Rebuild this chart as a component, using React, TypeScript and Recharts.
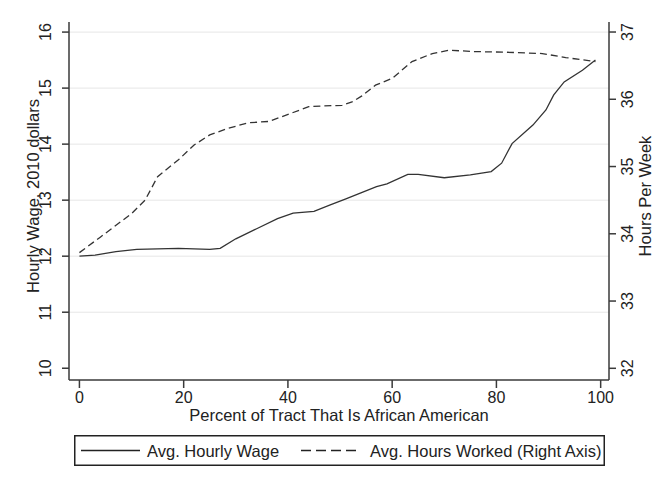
import React from "react";
import { LineChart, Line, XAxis, YAxis, CartesianGrid, Legend } from "recharts";

// ---- data ----
const wagePct = [0, 3, 7, 11, 15, 19, 22, 25, 27, 30, 34, 38, 41, 45, 48, 51, 54, 57, 59, 63, 65, 70, 75, 79, 81, 83, 87, 89.5, 91, 93, 96.5, 99];
const wageValues = [12.0, 12.02, 12.08, 12.12, 12.13, 12.14, 12.13, 12.12, 12.14, 12.31, 12.49, 12.67, 12.77, 12.8, 12.91, 13.02, 13.13, 13.24, 13.29, 13.46, 13.46, 13.4, 13.45, 13.51, 13.66, 14.01, 14.34, 14.61, 14.88, 15.11, 15.32, 15.5];
const hoursPct = [0, 4, 10, 12.6, 15, 19, 22, 25, 28.6, 32.4, 36.3, 38.8, 44, 46.5, 50.4, 52.3, 54.2, 56.8, 60, 63.8, 67.7, 71, 75.4, 81.8, 88.8, 93.3, 99];
const hoursValues = [33.72, 33.95, 34.3, 34.5, 34.85, 35.1, 35.32, 35.47, 35.57, 35.65, 35.67, 35.74, 35.89, 35.9, 35.91, 35.96, 36.05, 36.21, 36.31, 36.56, 36.68, 36.73, 36.71, 36.7, 36.68, 36.62, 36.56];
const xTicks = [0, 20, 40, 60, 80, 100];
const wageTicks = [10, 11, 12, 13, 14, 15, 16];
const hoursTicks = [32, 33, 34, 35, 36, 37];
const gridValues = [11, 12, 13, 14, 15, 16];

const xTitle = "Percent of Tract That Is African American";
const leftTitle = "Hourly Wage, 2010 dollars";
const rightTitle = "Hours Per Week";
const wageName = "Avg. Hourly Wage";
const hoursName = "Avg. Hours Worked (Right Axis)";

const wageData = wagePct.map((p, i) => ({ pct: p, wage: wageValues[i] }));
const hoursData = hoursPct.map((p, i) => ({ pct: p, hours: hoursValues[i] }));

// ---- layout ----
const W = 650;
const H = 471;
const PLOT_TOP = 14;
const PLOT_LEFT = 61;
const PLOT_RIGHT = 601;
const PLOT_BOTTOM = 372;
const FONT = "'Liberation Sans', Arial, Helvetica, sans-serif";
const TXT = "#222";
const AX = "#3a3a3a";

const XTick = (props: any) => {
  const { x, payload } = props;
  return (
    <text x={x} y={PLOT_BOTTOM + 17} textAnchor="middle" dominantBaseline="central" fontSize={16} fill={TXT} fontFamily={FONT}>
      {payload.value}
    </text>
  );
};

const makeYTick = (cx: number) => (props: any) => {
  const { y, payload } = props;
  return (
    <text x={cx} y={y} transform={`rotate(-90 ${cx} ${y})`} textAnchor="middle" dominantBaseline="central" fontSize={16} fill={TXT} fontFamily={FONT}>
      {payload.value}
    </text>
  );
};

const LeftTick = makeYTick(38);
const RightTick = makeYTick(620);

const LegendBox = () => (
  <svg width={531} height={31} style={{ display: "block" }}>
    <rect x={0.75} y={0.75} width={529.5} height={29.5} fill="#fff" stroke="#222" strokeWidth={1.5} />
    <line x1={7} y1={15.5} x2={66} y2={15.5} stroke="#222" strokeWidth={1.3} />
    <text x={73} y={15.5} dominantBaseline="central" fontSize={16.5} fill={TXT} fontFamily={FONT}>{wageName}</text>
    <line x1={227} y1={15.5} x2={282} y2={15.5} stroke="#222" strokeWidth={1.3} strokeDasharray="10 5" />
    <text x={296} y={15.5} dominantBaseline="central" fontSize={16.5} fill={TXT} fontFamily={FONT}>{hoursName}</text>
  </svg>
);

export default function App() {
  return (
    <div style={{ position: "relative", width: W, height: H, background: "#fff" }}>
      <div
        style={{
          position: "absolute",
          left: -1,
          top: -4,
          width: 658,
          height: 478,
          borderLeft: "1px solid #e2e2e2",
          borderTop: "1px solid #e2e2e2",
          boxSizing: "border-box",
          pointerEvents: "none",
        }}
      />
      <LineChart width={W} height={H} margin={{ top: PLOT_TOP, right: 0, bottom: 0, left: 0 }} style={{ position: "absolute", left: 0, top: 0 }}>
        <CartesianGrid yAxisId="left" vertical={false} horizontalValues={gridValues} stroke="#e6e6e6" strokeWidth={1} />
        <XAxis
          dataKey="pct"
          type="number"
          domain={[-2, 101.6]}
          ticks={xTicks}
          allowDataOverflow
          height={H - PLOT_BOTTOM}
          tickSize={8}
          tick={<XTick />}
          stroke={AX}
          strokeWidth={1.5}
          tickLine={{ stroke: AX, strokeWidth: 1.5 }}
          label={(p: any) => {
            const vb = p.viewBox || { x: PLOT_LEFT, y: PLOT_BOTTOM, width: PLOT_RIGHT - PLOT_LEFT };
            const cx = vb.x + vb.width / 2;
            return (
              <text x={cx} y={PLOT_BOTTOM + 35} textAnchor="middle" dominantBaseline="central" fontSize={16.5} fill={TXT} fontFamily={FONT}>
                {xTitle}
              </text>
            );
          }}
        />
        <YAxis
          yAxisId="left"
          orientation="left"
          type="number"
          domain={[9.79, 16.18]}
          ticks={wageTicks}
          allowDataOverflow
          width={PLOT_LEFT}
          tickSize={7}
          tick={<LeftTick />}
          stroke={AX}
          strokeWidth={1.5}
          tickLine={{ stroke: AX, strokeWidth: 1.5 }}
          label={() => (
            <text x={25} y={188} transform={`rotate(-90 25 188)`} textAnchor="middle" dominantBaseline="central" fontSize={16.5} fill={TXT} fontFamily={FONT}>
              {leftTitle}
            </text>
          )}
        />
        <YAxis
          yAxisId="right"
          orientation="right"
          type="number"
          domain={[31.826, 37.149]}
          ticks={hoursTicks}
          allowDataOverflow
          width={W - PLOT_RIGHT}
          tickSize={7}
          tick={<RightTick />}
          stroke={AX}
          strokeWidth={1.5}
          tickLine={{ stroke: AX, strokeWidth: 1.5 }}
          label={() => (
            <text x={637} y={188} transform={`rotate(-90 637 188)`} textAnchor="middle" dominantBaseline="central" fontSize={16.5} fill={TXT} fontFamily={FONT}>
              {rightTitle}
            </text>
          )}
        />
        <Line
          yAxisId="left"
          data={wageData}
          dataKey="wage"
          name={wageName}
          type="linear"
          stroke="#333"
          strokeWidth={1.3}
          dot={false}
          activeDot={false}
          isAnimationActive={false}
        />
        <Line
          yAxisId="right"
          data={hoursData}
          dataKey="hours"
          name={hoursName}
          type="linear"
          stroke="#333"
          strokeWidth={1.3}
          strokeDasharray="7 4"
          dot={false}
          activeDot={false}
          isAnimationActive={false}
        />
        <Legend
          layout="horizontal"
          verticalAlign="middle"
          align="center"
          content={<LegendBox />}
          wrapperStyle={{ position: "absolute", left: 66, top: 427, width: 531, height: 31 }}
        />
      </LineChart>
    </div>
  );
}
